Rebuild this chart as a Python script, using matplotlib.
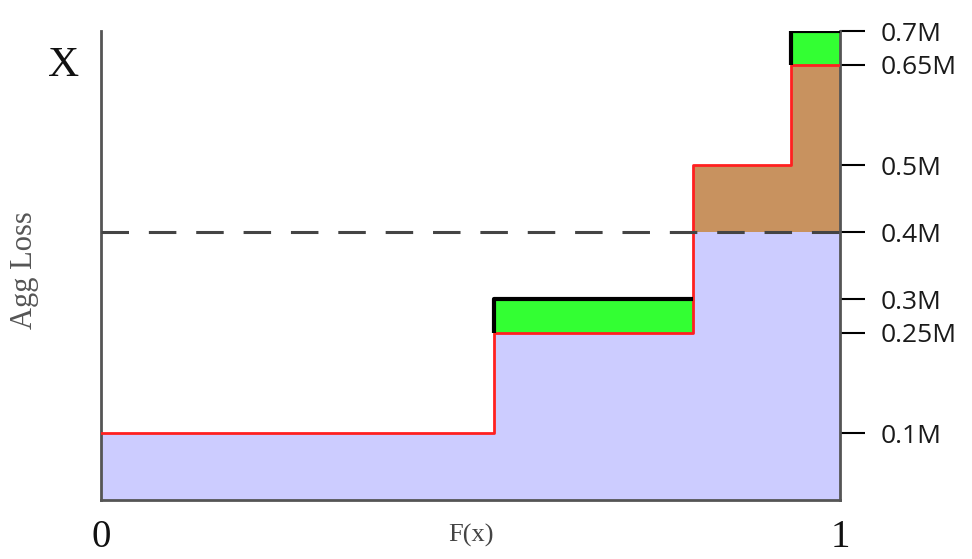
import matplotlib.pyplot as plt
import numpy as np

# step boundaries along F(x) and the loss level on each step (in millions)
edges = [0.0, 0.532, 0.801, 0.934, 1.0]
red_levels = [0.10, 0.25, 0.50, 0.65]
upper_levels = [0.10, 0.30, 0.50, 0.70]
threshold = 0.40

tick_vals = [0.1, 0.25, 0.3, 0.4, 0.5, 0.65, 0.7]
tick_text = ["0.1M", "0.25M", "0.3M", "0.4M", "0.5M", "0.65M", "0.7M"]

LAVENDER = "#CCCCFF"
GREEN = "#33FF33"
BROWN = "#C8925F"
RED = "#FF2020"
SPINE = "#555555"
SERIF = ["Liberation Serif", "DejaVu Serif"]

fig = plt.figure(figsize=(9.72, 5.59), dpi=100)
ax = fig.add_axes([0.1039, 0.1055, 0.7603, 0.839])

x = np.array(edges)
red = np.array(red_levels + [red_levels[-1]])
upper = np.array(upper_levels + [upper_levels[-1]])

# lavender body up to the threshold
ax.fill_between(x, 0, np.minimum(red, threshold), step="post", color=LAVENDER, lw=0)
# brown band between threshold and the red step
ax.fill_between(x, threshold, np.maximum(red, threshold), step="post", color=BROWN, lw=0)
# green band between red and the black step
ax.fill_between(x, red, upper, step="post", color=GREEN, lw=0)

# black outline of the green boxes
for i in range(len(red_levels)):
    if upper_levels[i] > red_levels[i]:
        ax.plot([edges[i], edges[i], edges[i + 1]],
                [red_levels[i], upper_levels[i], upper_levels[i]],
                color="black", lw=3, solid_capstyle="butt", zorder=4)

ax.step(x, red, where="post", color=RED, lw=2, zorder=3)
ax.axhline(threshold, color="#444444", lw=2.2, ls=(0, (9, 6.5)), zorder=5)

ax.set_xlim(0, 1)
ax.set_ylim(0, 0.7)

ax.spines["top"].set_visible(False)
for side in ("left", "bottom", "right"):
    ax.spines[side].set_color(SPINE)
    ax.spines[side].set_linewidth(2)

ax.yaxis.tick_right()
ax.set_yticks(tick_vals)
ax.set_yticklabels(tick_text, fontsize=19, color="#1a1a1a", family="Open Sans")
ax.tick_params(axis="y", length=18, width=1.5, color="black", pad=11)

ax.set_xticks([0, 1])
ax.set_xticklabels(["0", "1"], fontsize=28, family=SERIF, color="#111111")
ax.tick_params(axis="x", length=0, pad=14)

ax.text(0.5, -0.075, "F(x)", transform=ax.transAxes, ha="center", va="center",
        fontsize=19, family=SERIF, color="#444444")
ax.text(-0.05, 0.925, "X", transform=ax.transAxes, ha="center", va="center",
        fontsize=31, family=SERIF, color="#111111")
ax.text(-0.103, 0.49, "Agg Loss", transform=ax.transAxes, ha="center", va="center",
        rotation=90, fontsize=22, family=SERIF, color="#555555")

fig.savefig("out.png", dpi=100)
